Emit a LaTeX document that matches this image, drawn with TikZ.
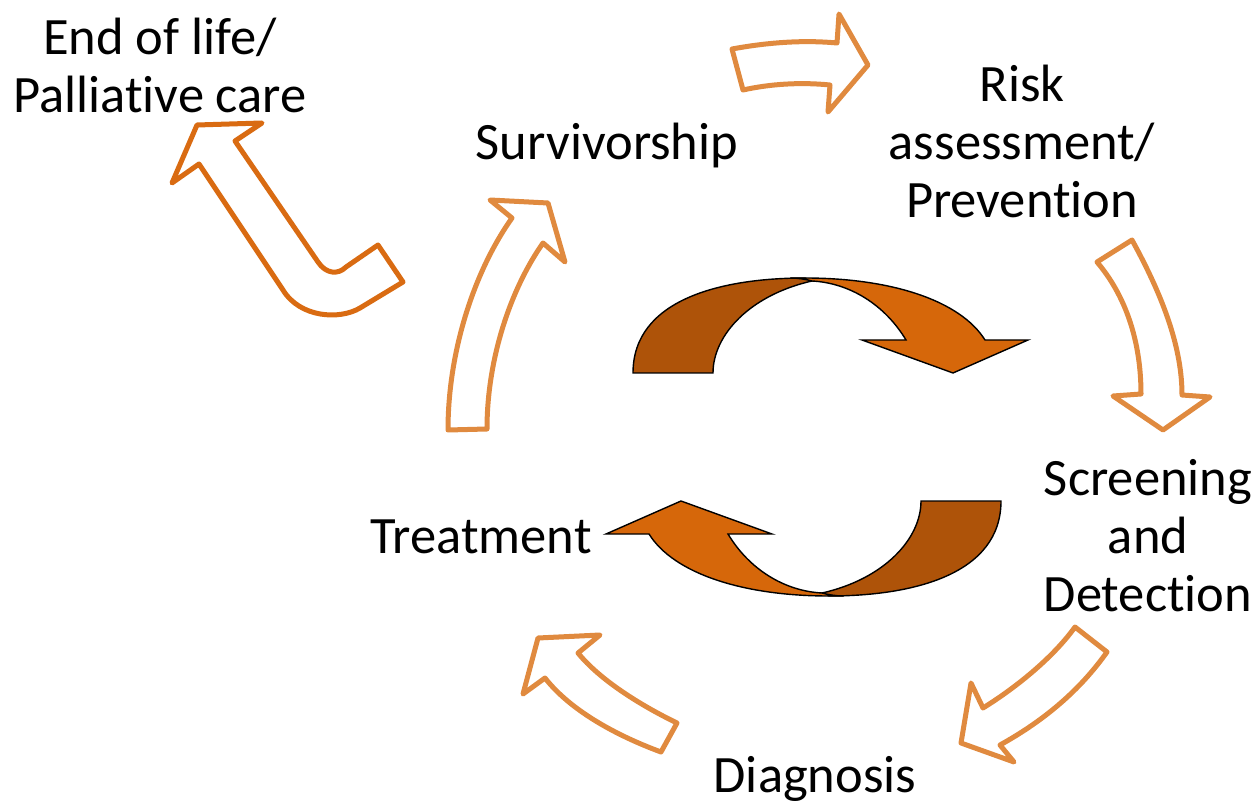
\documentclass[tikz,border=0pt]{standalone}
\usepackage{fontspec}
\setmainfont{Carlito}[Ligatures=NoCommon]
\definecolor{ringorange}{HTML}{E08A3F}
\definecolor{exitorange}{HTML}{D96B12}
\definecolor{cyclebrown}{HTML}{AE5309}
\definecolor{cycleorange}{HTML}{D6670A}

% one half of the central cycle: a brown back band and an orange front band with head
\newcommand\drawcyclehalf{%
  \path[backband] (633,373) .. controls (633,300) and (720,278) .. (805,278)
    -- (812,281) .. controls (750,295) and (713,335) .. (713,373) -- cycle;
  \path[frontband] (790,278) -- (805,278) .. controls (890,278) and (960,300) .. (985,340)
    -- (1028,340) -- (953,373) -- (862,340) -- (906,340)
    .. controls (885,305) and (850,283) .. (812,281)
    .. controls (805,279) and (797,278) .. cycle;
}

\begin{document}
\begin{tikzpicture}[x=1pt,y=-1pt,
  hollow/.style={draw=ringorange, line width=5pt, line join=round, fill=white},
  exitarrow/.style={hollow, draw=exitorange},
  backband/.style={fill=cyclebrown, draw=black, line width=1.4pt, line join=miter},
  frontband/.style={fill=cycleorange, draw=black, line width=1.4pt, line join=miter},
  stage/.style={font=\fontsize{52.5}{58}\selectfont, align=center, text=black, inner sep=0pt, anchor=base}
]
\useasboundingbox (0,0) rectangle (1259,802);

% stage labels (placed at the baseline of their last line)
\node[stage] (eol)   at (160,113) {End of life/\\Palliative care};
\node[stage] (surv)  at (607,160) {Survivorship};
\node[stage] (risk)  at (1022,218) {Risk\\assessment/\\Prevention};
\node[stage] (scr)   at (1148,611) {Screening\\and\\Detection};
\node[stage] (treat) at (481,553) {Treatment};
\node[stage] (diag)  at (815,792) {Diagnosis};

% hollow block arrows around the cycle
\path[hollow] (732,49) .. controls (770,42) and (805,40) .. (837,43)
  -- (839,14) -- (868,65) -- (828,112) -- (830,85)
  .. controls (800,82) and (770,84) .. (743,90) -- cycle;

\path[hollow] (1097,262) -- (1132,240) .. controls (1165,300) and (1182,350) .. (1182,395)
  -- (1210,397) -- (1163,430) -- (1113,396) -- (1141,394)
  .. controls (1141,340) and (1125,295) .. cycle;

\path[hollow] (1075,627) -- (1107,652) .. controls (1080,690) and (1045,720) .. (1000,745)
  -- (1014,762) -- (961,743) -- (971,683) -- (983,708)
  .. controls (1020,685) and (1055,655) .. cycle;

\path[hollow] (677,723) -- (661,752) .. controls (615,735) and (570,710) .. (545,678)
  -- (523,694) -- (538,638) -- (600,635) -- (578,653)
  .. controls (600,680) and (640,705) .. cycle;

\path[hollow] (448,430) -- (487,429) .. controls (487,360) and (510,290) .. (543,243)
  -- (565,262) -- (548,203) -- (490,200) -- (512,218)
  .. controls (475,270) and (448,350) .. cycle;

% exit arrow towards end-of-life care
\path[exitarrow] (172,183) -- (197,125) -- (262,123) -- (235,141) -- (318,262)
  .. controls (326,274) and (338,275) .. (346,267) -- (378,245) -- (403,282) -- (360,308)
  .. controls (340,320) and (300,318) .. (283,290) -- (199,164) -- cycle;

% central cycle: upper half, then the same half turned about the centre
\drawcyclehalf
\begin{scope}[rotate around={180:(817,437)}]
  \drawcyclehalf
\end{scope}
\end{tikzpicture}
\end{document}
